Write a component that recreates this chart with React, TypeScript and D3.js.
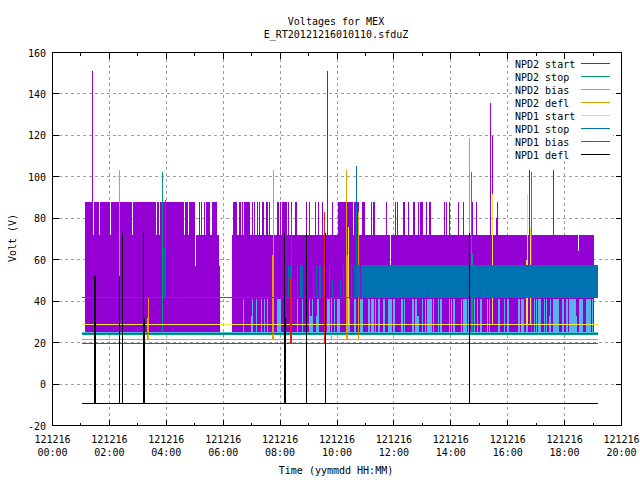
// Voltages for MEX - gnuplot style time series redrawn with d3 scales
import React from 'react';
import * as d3 from 'd3';

type Span = [number, number];
type Mark = [number, number, number, number]; // t0, t1, low, high (hours, volts)

const titleLines = ['Voltages for MEX', 'E_RT20121216010110.sfduZ'];
const seriesNames = ['NPD2 start', 'NPD2 stop', 'NPD2 bias', 'NPD2 defl', 'NPD1 start', 'NPD1 stop', 'NPD1 bias', 'NPD1 defl'];
const seriesColors = ['#9400d3', '#009e73', '#56b4e9', '#e69f00', '#f0e442', '#0072b2', '#e51e10', '#000000'];
const yTicks = [-20, 0, 20, 40, 60, 80, 100, 120, 140, 160];
const xMajor = [0, 2, 4, 6, 8, 10, 12, 14, 16, 18, 20];
const xMinor = [1, 3, 5, 7, 9, 11, 13, 15, 17, 19];
const runStart = 1.04;
const runEnd = 19.17;

// NPD2 start: the fast swings between the levels
const startTopSpans: Span[] = [
  [1.14, 1.41], [1.46, 1.63], [1.67, 2.02], [2.06, 2.78], [2.83, 3.63], [3.66, 3.74], [3.78, 4.62], [4.66, 4.77], [4.81, 5.01],
  [5.15, 5.18], [5.22, 5.25], [5.33, 5.36], [5.40, 5.54], [5.61, 5.78],
  [6.34, 6.49], [6.55, 6.63], [6.66, 6.70], [6.73, 6.94], [7.01, 7.05], [7.08, 7.12], [7.19, 7.22], [7.26, 7.29], [7.36, 7.43],
  [7.50, 7.57], [7.61, 7.65], [7.89, 7.96], [7.99, 8.03], [8.07, 8.24], [8.28, 8.31], [8.38, 8.42], [8.52, 8.59], [8.91, 8.95],
  [9.02, 9.05], [9.23, 9.26], [9.33, 9.37], [9.47, 9.51], [9.65, 9.68], [9.82, 9.86], [10.04, 10.32], [10.35, 10.56], [10.60, 10.77],
  [10.88, 10.98], [11.20, 11.23], [11.27, 11.34], [11.72, 11.76], [12.04, 12.07], [12.11, 12.14], [12.32, 12.39], [12.49, 12.53],
  [12.67, 12.74], [12.85, 12.88], [12.92, 13.02], [13.13, 13.16], [13.23, 13.30], [13.76, 13.80], [13.83, 13.87], [13.94, 13.97],
  [14.25, 14.29], [14.43, 14.46], [14.74, 14.78], [14.89, 14.92], [15.38, 15.41], [15.62, 15.66], [17.59, 17.63],
];
const startMarks: Mark[] = [
  [1.14, 5.01, 25.3, 72], [5.01, 5.04, 25.3, 57], [5.04, 5.85, 25.3, 72], [5.85, 5.89, 25.3, 57],
  [6.31, 11.86, 25.3, 72], [11.86, 11.90, 25.3, 57], [11.90, 18.47, 25.3, 72], [18.47, 18.51, 25.3, 64], [18.51, 19.03, 25.3, 72],
  [15.59, 15.62, 72, 80],
  [1.39, 1.42, 72, 151], [9.65, 9.68, 72, 151], [15.38, 15.41, 72, 135.5], [15.45, 15.48, 72, 119.5], [16.75, 16.78, 72, 103.5], [17.59, 17.63, 72, 103.5],
];

// NPD2 stop
const stopMarks: Mark[] = [
  [3.85, 3.88, 24, 102.5], [14.71, 14.74, 24, 102.5], [14.74, 14.78, 24, 63], [16.82, 16.85, 24, 102.5],
];

// NPD2 bias
const biasSpans: Span[] = [
  [6.70, 6.73], [7.01, 7.05], [7.15, 7.19], [7.33, 7.36], [7.43, 7.47], [7.54, 7.57], [7.89, 8.03], [8.59, 8.63], [8.77, 8.81],
  [9.02, 9.05], [9.12, 9.16], [9.30, 9.37], [9.65, 9.75], [9.79, 9.82], [9.89, 9.93], [10.00, 10.11], [10.39, 10.46], [10.60, 10.67],
  [10.81, 10.91], [11.09, 11.16], [11.20, 11.30], [11.34, 11.37], [11.44, 11.51], [11.62, 11.69], [11.79, 11.93], [11.97, 12.04],
  [12.25, 12.32], [12.35, 12.39], [12.64, 12.71], [12.74, 12.81], [12.99, 13.02], [13.09, 13.13], [13.16, 13.34], [13.37, 13.41],
  [13.55, 13.59], [13.62, 13.69], [13.94, 13.97], [14.01, 14.04], [14.08, 14.15], [14.36, 14.39], [14.43, 14.57], [14.60, 14.64],
  [14.81, 14.85], [14.92, 14.95], [15.03, 15.10], [15.27, 15.31], [15.34, 15.38], [15.66, 15.73], [15.87, 15.90], [15.97, 16.04],
  [16.36, 16.43], [16.47, 16.57], [16.64, 16.71], [16.92, 16.96], [16.99, 17.03], [17.06, 17.17], [17.27, 17.31], [17.34, 17.38],
  [17.48, 17.52], [17.59, 17.80], [17.91, 17.98], [18.05, 18.12], [18.15, 18.40], [18.51, 18.65], [18.75, 18.93], [18.96, 19.00],
];
const biasLowSpans: Span[] = [
  [6.98, 7.01], [9.05, 9.12], [9.26, 9.30], [12.81, 12.88], [17.45, 17.48], [18.40, 18.44],
];
const biasSpikes: Mark[] = [[14.64, 14.67, 25, 118.5]];

// NPD2 defl
const deflMarks: Mark[] = [
  [2.34, 2.37, 21.7, 103.3], [3.36, 3.39, 21.7, 41.6], [3.32, 3.39, 21.7, 32], [7.75, 7.79, 21.7, 103.3], [7.72, 7.79, 21.7, 62.5],
  [9.79, 9.82, 21.7, 42], [10.32, 10.35, 21.7, 103.5], [10.32, 10.39, 21.7, 62.5], [10.74, 10.77, 21.7, 83],
];

// NPD1 start
const npd1StartMarks: Mark[] = [
  [10.39, 10.42, 29, 76], [15.45, 15.48, 29, 91.5], [16.68, 16.71, 29, 91.5], [16.64, 16.71, 29, 60], [16.78, 16.82, 29, 76],
];

// NPD1 stop
const npd1StopSpans: Span[] = [
  [8.28, 8.31], [8.35, 8.38], [8.59, 8.63], [8.70, 8.81], [9.16, 9.19], [9.26, 9.30], [9.37, 9.44], [9.51, 9.54], [9.72, 9.75],
  [10.21, 10.25], [10.49, 10.53], [10.60, 10.63], [10.67, 10.81], [10.84, 19.17],
];
const npd1StopMarks: Mark[] = [
  [3.92, 3.99, 42, 66], [3.96, 3.99, 42, 89], [9.82, 9.86, 42, 50], [10.11, 10.15, 42, 50], [10.67, 10.70, 42, 105],
];

// NPD1 bias
const npd1BiasMarks: Mark[] = [
  [8.38, 8.42, 19.8, 83], [8.35, 8.42, 19.8, 51.4], [9.54, 9.58, 19.8, 83],
];

// NPD1 defl
const npd1DeflMarks: Mark[] = [
  [1.46, 1.53, -9.2, 52], [2.34, 2.37, -9.2, 52], [2.44, 2.48, -9.2, 73], [3.18, 3.22, -9.2, 73], [3.18, 3.25, -9.2, 32],
  [8.14, 8.17, -9.2, 73], [8.14, 8.21, -9.2, 32], [8.91, 8.95, -9.2, 73], [9.58, 9.61, -9.2, 73], [14.64, 14.67, -9.2, 73],
];

// resting level of each series: series index, volts
const baseLevels: [number, number][] = [
  [1, 24.3],
  [2, 25.3],
  [3, 21.7],
  [4, 29],
  [5, 42],
  [5, 24.8],
  [6, 19.8],
  [7, -9.2],
];

const spansToMarks = (spans: Span[], low: number, high: number): Mark[] =>
  spans.map(([a, b]) => [a, b, low, high] as Mark);

const markGroups: [number, Mark[]][] = [
  [0, [...spansToMarks(startTopSpans, 72, 88), ...startMarks]],
  [1, stopMarks],
  [2, [...spansToMarks(biasSpans, 25.3, 41), ...spansToMarks(biasLowSpans, 25.3, 33), ...biasSpikes]],
  [3, deflMarks],
  [4, npd1StartMarks],
  [5, [...spansToMarks(npd1StopSpans, 42, 57.6), ...npd1StopMarks]],
  [6, npd1BiasMarks],
  [7, npd1DeflMarks],
];

const width = 640;
const height = 480;
const left = 52.5;
const right = 621.5;
const top = 52.5;
const bottom = 425.5;

const x = d3.scaleLinear().domain([0, 20]).range([left, right]);
const y = d3.scaleLinear().domain([-20, 160]).range([bottom, top]);
const hourLabel = d3.format('02d');
const mono = '"DejaVu Sans Mono", monospace';
const gridColor = '#a0a0a0';

export default function App() {
  return (
    <svg
      width={width}
      height={height}
      viewBox={`0 0 ${width} ${height}`}
      style={{ position: 'absolute', left: 0, top: 0, background: '#fff' }}
      fontFamily={mono}
      fontSize={10}
    >
      <g shapeRendering="crispEdges">
        {/* grid */}
        {yTicks.slice(1, -1).map(t => (
          <line key={t} x1={left} x2={right} y1={y(t)} y2={y(t)} stroke={gridColor} strokeDasharray="3,3" />
        ))}
        {xMajor.slice(1, -1).map(t => (
          <line key={t} x1={x(t)} x2={x(t)} y1={top} y2={bottom} stroke={gridColor} strokeDasharray="3,3" />
        ))}

        {/* series, same order as gnuplot plots them */}
        {markGroups.map(([s, marks]) => (
          <g key={s} fill={seriesColors[s]}>
            {baseLevels.filter(b => b[0] === s).map(([, v], i) => (
              <rect key={i} x={x(runStart)} width={x(runEnd) - x(runStart)} y={Math.round(y(v))} height={1} />
            ))}
            {marks.map(([t0, t1, lo, hi], i) => (
              <rect key={i} x={x(t0)} width={x(t1) - x(t0)} y={y(hi)} height={y(lo) - y(hi)} />
            ))}
          </g>
        ))}

        {/* legend box hides the grid */}
        <rect x={512} y={58} width={101} height={103} fill="#fff" />
        {seriesNames.map((n, i) => (
          <rect key={n} x={581} width={29} y={63 + i * 13} height={1} fill={seriesColors[i]} />
        ))}

        {/* frame and ticks */}
        <rect x={left} y={top} width={right - left} height={bottom - top} fill="none" stroke="#000" />
        {yTicks.map(t => (
          <g key={t} stroke="#000">
            <line x1={left} x2={left + 6} y1={y(t)} y2={y(t)} />
            <line x1={right} x2={right - 6} y1={y(t)} y2={y(t)} />
          </g>
        ))}
        {xMajor.map(t => (
          <g key={t} stroke="#000">
            <line x1={x(t)} x2={x(t)} y1={bottom} y2={bottom - 6} />
            <line x1={x(t)} x2={x(t)} y1={top} y2={top + 6} />
          </g>
        ))}
        {xMinor.map(t => (
          <g key={t} stroke="#000">
            <line x1={x(t)} x2={x(t)} y1={bottom} y2={bottom - 3} />
            <line x1={x(t)} x2={x(t)} y1={top} y2={top + 3} />
          </g>
        ))}
      </g>

      {/* text */}
      {titleLines.map((t, i) => (
        <text key={t} x={336} y={25 + i * 13} textAnchor="middle">{t}</text>
      ))}
      {yTicks.map(t => (
        <text key={t} x={46} y={y(t) + 4} textAnchor="end">{t}</text>
      ))}
      {xMajor.map(t => (
        <g key={t} textAnchor="middle">
          <text x={x(t)} y={443}>121216</text>
          <text x={x(t)} y={456}>{`${hourLabel(t)}:00`}</text>
        </g>
      ))}
      <text x={336} y={474} textAnchor="middle">Time (yymmdd HH:MM)</text>
      <text transform="translate(16,238) rotate(-90)" textAnchor="middle">Volt (V)</text>
      {seriesNames.map((n, i) => (
        <text key={n} x={515} y={68 + i * 13}>{n}</text>
      ))}
    </svg>
  );
}
